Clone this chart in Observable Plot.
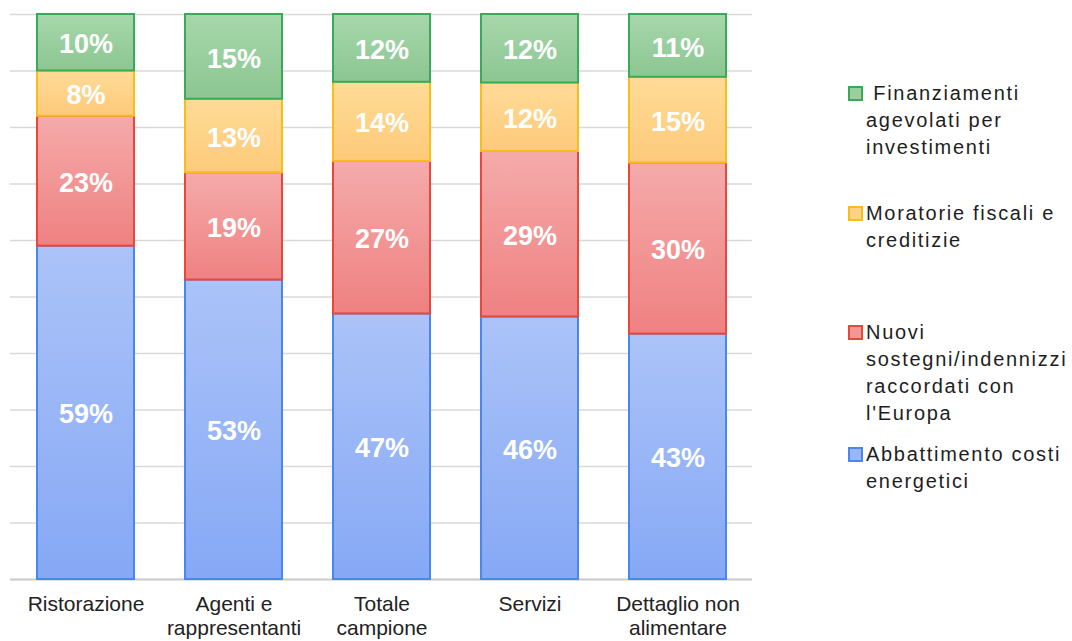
<!DOCTYPE html>
<html>
<head>
<meta charset="utf-8">
<script src="https://cdn.jsdelivr.net/npm/d3@7"></script>
<script src="https://cdn.jsdelivr.net/npm/@observablehq/plot@0.6"></script>
<style>
  html, body { margin: 0; padding: 0; background: #fff; }
  #wrap { position: relative; width: 1072px; height: 641px; overflow: hidden; font-family: "Liberation Sans", Arial, sans-serif; }
  #chart { position: absolute; left: 0; top: 0; }
  .leg { position: absolute; left: 848px; font-size: 20px; line-height: 27px; letter-spacing: 1.7px; color: #1e1e1e; white-space: pre; }
  .leg .sw { position: absolute; left: 0; top: 6px; width: 11px; height: 11px; border: 2px solid; }
  .leg .tx { margin-left: 18px; }
</style>
</head>
<body>
<div id="wrap">
  <svg width="0" height="0" style="position:absolute">
    <defs>
      <linearGradient id="gBlue" x1="0" y1="0" x2="0" y2="1"><stop offset="0" stop-color="#abc3f8"/><stop offset="1" stop-color="#86a8f5"/></linearGradient>
      <linearGradient id="gRed" x1="0" y1="0" x2="0" y2="1"><stop offset="0" stop-color="#f5aaaa"/><stop offset="1" stop-color="#ef8181"/></linearGradient>
      <linearGradient id="gYellow" x1="0" y1="0" x2="0" y2="1"><stop offset="0" stop-color="#ffdb97"/><stop offset="1" stop-color="#fdca7a"/></linearGradient>
      <linearGradient id="gGreen" x1="0" y1="0" x2="0" y2="1"><stop offset="0" stop-color="#a7d7ab"/><stop offset="1" stop-color="#8cc692"/></linearGradient>
    </defs>
  </svg>
  <div id="chart"></div>
</div>
<script>
// Categories (x axis)
const categories = ["Ristorazione", "Agenti e rappresentanti", "Totale campione", "Servizi", "Dettaglio non alimentare"];
const categoryLabels = ["Ristorazione", "Agenti e\nrappresentanti", "Totale\ncampione", "Servizi", "Dettaglio non\nalimentare"];

// Series (bottom to top of each stack)
const series = ["Abbattimento costi energetici", "Nuovi sostegni/indennizzi raccordati con l'Europa", "Moratorie fiscali e creditizie", "Finanziamenti agevolati per investimenti"];
const abbattimento = [59, 53, 47, 46, 43];
const nuoviSostegni = [23, 19, 27, 29, 30];
const moratorie = [8, 13, 14, 12, 15];
const finanziamenti = [10, 15, 12, 12, 11];

// Legend labels (top to bottom)
const legendLabels = [" Finanziamenti\nagevolati per\ninvestimenti", "Moratorie fiscali e\ncreditizie", "Nuovi\nsostegni/indennizzi\nraccordati con\nl'Europa", "Abbattimento costi\nenergetici"];
const legendSeries = [series[3], series[2], series[1], series[0]];

// Styles
const fills = {[series[0]]: "url(#gBlue)", [series[1]]: "url(#gRed)", [series[2]]: "url(#gYellow)", [series[3]]: "url(#gGreen)"};
const strokes = {[series[0]]: "#4a86f0", [series[1]]: "#e8473b", [series[2]]: "#f9bd1a", [series[3]]: "#3aaa5a"};
const swatchFills = {[series[0]]: "#9ab6f7", [series[1]]: "#f29696", [series[2]]: "#fed289", [series[3]]: "#9ccf9f"};

const valuesBySeries = [abbattimento, nuoviSostegni, moratorie, finanziamenti];
const rows = [];
categories.forEach((c, i) => {
  series.forEach((s, j) => rows.push({category: c, series: s, value: valuesBySeries[j][i]}));
});
const labelOf = Object.fromEntries(categories.map((c, i) => [c, categoryLabels[i]]));

const chart = Plot.plot({
  width: 760,
  height: 641,
  marginTop: 14,
  marginBottom: 62,
  marginLeft: 10,
  marginRight: 8,
  style: {fontFamily: "'Liberation Sans', Arial, sans-serif", background: "transparent", overflow: "visible"},
  x: {domain: categories, paddingInner: 0.346, paddingOuter: 0.175, label: null},
  y: {domain: [0, 1], axis: null},
  color: {type: "identity"},
  marks: [
    Plot.gridY({ticks: 10, stroke: "#d9d9d9", strokeOpacity: 1, strokeWidth: 1.6}),
    Plot.ruleY([0], {stroke: "#cccccc", strokeWidth: 2}),
    Plot.rectY(rows, Plot.stackY({
      x: "category", y: "value", z: "series", offset: "normalize",
      fill: d => fills[d.series], stroke: d => strokes[d.series], strokeWidth: 2
    })),
    Plot.text(rows, Plot.stackY({
      x: "category", y: "value", z: "series", offset: "normalize",
      text: d => d.value + "%", fill: "white", fontSize: 27, fontWeight: "bold", dy: 2
    })),
    Plot.axisX({tickSize: 0, tickPadding: 14, fontSize: 21, lineHeight: 1.15, fill: "#222", tickFormat: d => labelOf[d], label: null})
  ]
});
document.getElementById("chart").appendChild(chart);

// Legend
const legendTops = [80, 200, 319, 441];
const wrap = document.getElementById("wrap");
legendLabels.forEach((lab, i) => {
  const s = legendSeries[i];
  const div = document.createElement("div");
  div.className = "leg";
  div.style.top = legendTops[i] + "px";
  const sw = document.createElement("span");
  sw.className = "sw";
  sw.style.borderColor = strokes[s];
  sw.style.background = swatchFills[s];
  const tx = document.createElement("div");
  tx.className = "tx";
  tx.textContent = lab;
  div.appendChild(sw);
  div.appendChild(tx);
  wrap.appendChild(div);
});
</script>
</body>
</html>
